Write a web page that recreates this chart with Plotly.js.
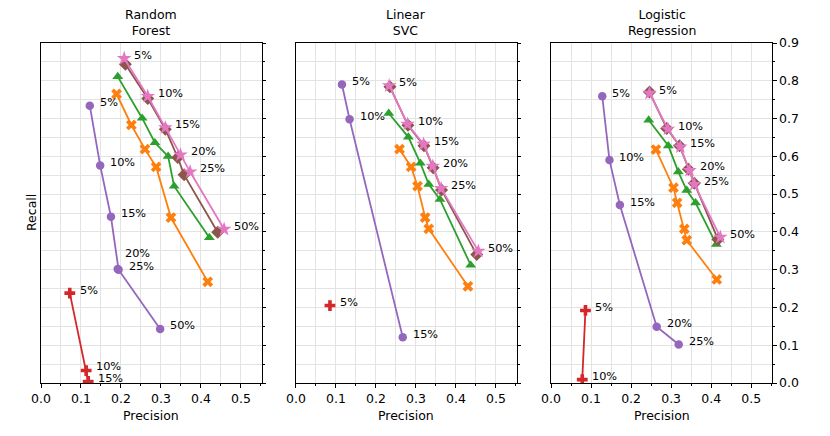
<!DOCTYPE html>
<html>
<head>
<meta charset="utf-8">
<script src="https://cdn.plot.ly/plotly-3.0.1.min.js"></script>
<style>html,body{margin:0;padding:0;background:#fff;}#chart{width:830px;height:436px;}</style>
</head>
<body>
<div id="chart"></div>
<script>
// ---- data ----
const thresholds = ['5%', '10%', '15%', '20%', '25%', '50%'];
const panelTitles = ['Random<br>Forest', 'Linear<br>SVC', 'Logistic<br>Regression'];
const xTickLabels = ['0.0', '0.1', '0.2', '0.3', '0.4', '0.5'];
const yTickLabels = ['0.0', '0.1', '0.2', '0.3', '0.4', '0.5', '0.6', '0.7', '0.8', '0.9'];

// Random Forest
const rfOrangeP = [0.189, 0.226, 0.260, 0.288, 0.325, 0.417];
const rfOrangeR = [0.765, 0.683, 0.619, 0.572, 0.438, 0.268];
const rfGreenP  = [0.192, 0.253, 0.285, 0.318, 0.333, 0.421];
const rfGreenR  = [0.811, 0.701, 0.636, 0.600, 0.521, 0.385];
const rfRedP    = [0.072, 0.113, 0.118];
const rfRedR    = [0.238, 0.033, 0.004];
const rfPurpleP = [0.122, 0.148, 0.175, 0.192, 0.194, 0.298];
const rfPurpleR = [0.734, 0.576, 0.440, 0.302, 0.300, 0.143];
const rfBrownP  = [0.211, 0.267, 0.311, 0.342, 0.358, 0.442];
const rfBrownR  = [0.844, 0.753, 0.672, 0.597, 0.551, 0.399];
const rfPinkP   = [0.208, 0.267, 0.311, 0.349, 0.373, 0.458];
const rfPinkR   = [0.859, 0.759, 0.676, 0.604, 0.559, 0.407];

// Linear SVC
const svcOrangeP = [0.259, 0.288, 0.304, 0.323, 0.332, 0.430];
const svcOrangeR = [0.619, 0.572, 0.521, 0.438, 0.408, 0.256];
const svcGreenP  = [0.232, 0.281, 0.311, 0.332, 0.360, 0.437];
const svcGreenR  = [0.714, 0.651, 0.582, 0.526, 0.486, 0.312];
const svcRedP    = [0.085];
const svcRedR    = [0.205];
const svcPurpleP = [0.115, 0.134, 0.267];
const svcPurpleR = [0.790, 0.698, 0.121];
const svcBrownP  = [0.235, 0.280, 0.320, 0.343, 0.364, 0.452];
const svcBrownR  = [0.784, 0.682, 0.628, 0.570, 0.511, 0.340];
const svcPinkP   = [0.233, 0.279, 0.319, 0.342, 0.363, 0.456];
const svcPinkR   = [0.787, 0.685, 0.632, 0.574, 0.515, 0.349];

// Logistic Regression
const lrOrangeP = [0.262, 0.306, 0.315, 0.333, 0.339, 0.414];
const lrOrangeR = [0.618, 0.517, 0.477, 0.408, 0.378, 0.274];
const lrGreenP  = [0.244, 0.293, 0.318, 0.339, 0.361, 0.413];
const lrGreenR  = [0.696, 0.628, 0.559, 0.510, 0.477, 0.367];
const lrRedP    = [0.086, 0.078];
const lrRedR    = [0.192, 0.009];
const lrPurpleP = [0.128, 0.146, 0.172, 0.264, 0.319];
const lrPurpleR = [0.759, 0.590, 0.471, 0.149, 0.102];
const lrBrownP  = [0.246, 0.289, 0.321, 0.343, 0.358, 0.417];
const lrBrownR  = [0.770, 0.674, 0.628, 0.566, 0.529, 0.380];
const lrPinkP   = [0.246, 0.292, 0.323, 0.346, 0.358, 0.423];
const lrPinkR   = [0.767, 0.672, 0.625, 0.563, 0.526, 0.386];

// ---- styling ----
const FONT = 'DejaVu Sans';
const style = {
  orange: {color: '#ff7f0e', symbol: 'x', size: 9.5},
  green:  {color: '#2ca02c', symbol: 'triangle-up', size: 9.5},
  red:    {color: '#d62728', symbol: 'cross', size: 9},
  purple: {color: '#9467bd', symbol: 'circle', size: 8.5},
  brown:  {color: '#8c564b', symbol: 'diamond', size: 10},
  pink:   {color: '#e377c2', symbol: 'star', size: 11}
};

const panels = [
  {series: [['orange', rfOrangeP, rfOrangeR], ['green', rfGreenP, rfGreenR], ['red', rfRedP, rfRedR],
            ['purple', rfPurpleP, rfPurpleR], ['brown', rfBrownP, rfBrownR], ['pink', rfPinkP, rfPinkR]]},
  {series: [['orange', svcOrangeP, svcOrangeR], ['green', svcGreenP, svcGreenR], ['red', svcRedP, svcRedR],
            ['purple', svcPurpleP, svcPurpleR], ['brown', svcBrownP, svcBrownR], ['pink', svcPinkP, svcPinkR]]},
  {series: [['orange', lrOrangeP, lrOrangeR], ['green', lrGreenP, lrGreenR], ['red', lrRedP, lrRedR],
            ['purple', lrPurpleP, lrPurpleR], ['brown', lrBrownP, lrBrownR], ['pink', lrPinkP, lrPinkR]]}
];
const labelled = ['red', 'purple', 'pink'];

const domains = [[0, 0.3019], [0.3488, 0.6508], [0.6977, 1]];
const traces = [];
const annotations = [];

panels.forEach((panel, pi) => {
  const xa = pi === 0 ? 'x' : 'x' + (pi + 1);
  const ya = pi === 0 ? 'y' : 'y' + (pi + 1);
  panel.series.forEach(([name, p, r]) => {
    const s = style[name];
    traces.push({
      type: 'scatter', mode: 'lines+markers', x: p, y: r, xaxis: xa, yaxis: ya,
      line: {color: s.color, width: 1.8},
      marker: {color: s.color, symbol: s.symbol, size: s.size, line: {width: 0}},
      showlegend: false, hoverinfo: 'x+y', cliponaxis: true
    });
    if (labelled.includes(name)) {
      p.forEach((px, i) => {
        // when two consecutive points coincide, lift the first label so both are readable
        const coincide = i < p.length - 1 && Math.abs(p[i + 1] - px) < 0.01 && Math.abs(r[i + 1] - r[i]) < 0.01;
        // a label whose next point sits just below it is lifted by one pixel
        const close = i < p.length - 1 && !coincide && Math.abs(r[i + 1] - r[i]) < 0.04;
        annotations.push({
          xref: xa, yref: ya, x: px, y: r[i], text: thresholds[i], showarrow: false,
          xanchor: 'left', yanchor: 'middle', xshift: coincide ? 5 : 8, yshift: coincide ? 15 : (close ? 4 : 3),
          font: {family: FONT, size: 11.3, color: '#000'}
        });
      });
    }
  });
  const cx = (domains[pi][0] + domains[pi][1]) / 2;
  annotations.push({xref: 'paper', yref: 'paper', x: cx, y: 1, yanchor: 'bottom', xanchor: 'center',
    yshift: 3, text: panelTitles[pi], showarrow: false, font: {family: FONT, size: 12.5, color: '#000'}});
  annotations.push({xref: 'paper', yref: 'paper', x: cx, y: 0, yanchor: 'middle', xanchor: 'center',
    yshift: -32, text: 'Precision', showarrow: false, font: {family: FONT, size: 12.5, color: '#000'}});
});
annotations.push({xref: 'paper', yref: 'paper', x: 0, y: 0.5, xanchor: 'center', yanchor: 'middle',
  xshift: -10, textangle: -90, text: 'Recall', showarrow: false, font: {family: FONT, size: 12.5, color: '#000'}});

const gridColor = '#e3e3e3';
const layout = {
  width: 830, height: 436,
  margin: {l: 41, r: 58, t: 43, b: 53},
  paper_bgcolor: '#fff', plot_bgcolor: '#fff',
  font: {family: FONT, size: 12.5, color: '#000'},
  showlegend: false,
  annotations: annotations
};
const xVals = xTickLabels.map(Number);
const yVals = yTickLabels.map(Number);
for (let i = 0; i < 3; i++) {
  const xk = i === 0 ? 'xaxis' : 'xaxis' + (i + 1);
  const yk = i === 0 ? 'yaxis' : 'yaxis' + (i + 1);
  const xa = i === 0 ? 'x' : 'x' + (i + 1);
  const ya = i === 0 ? 'y' : 'y' + (i + 1);
  layout[xk] = {
    domain: domains[i], anchor: ya, range: [0, 0.552],
    tickmode: 'array', tickvals: xVals, ticktext: xTickLabels,
    ticks: 'outside', ticklen: 3.5, tickwidth: 1, tickcolor: '#000',
    showline: true, linecolor: '#000', linewidth: 1, mirror: true,
    showgrid: true, gridcolor: gridColor, gridwidth: 1, zeroline: false,
    tickfont: {family: FONT, size: 12.5, color: '#000'},
    minor: {dtick: 0.05, tick0: 0, ticks: 'outside', ticklen: 2, tickcolor: '#000', showgrid: true, gridcolor: gridColor, gridwidth: 1}
  };
  layout[yk] = {
    domain: [0, 1], anchor: xa, range: [0, 0.9], side: 'right',
    tickmode: 'array', tickvals: yVals, ticktext: yTickLabels, showticklabels: i === 2,
    ticks: 'outside', ticklen: 3.5, tickwidth: 1, tickcolor: '#000',
    showline: true, linecolor: '#000', linewidth: 1, mirror: true,
    showgrid: true, gridcolor: gridColor, gridwidth: 1, zeroline: false,
    tickfont: {family: FONT, size: 12.5, color: '#000'},
    minor: {dtick: 0.05, tick0: 0, ticks: 'outside', ticklen: 2, tickcolor: '#000', showgrid: true, gridcolor: gridColor, gridwidth: 1}
  };
}

Plotly.newPlot('chart', traces, layout, {displayModeBar: false, staticPlot: true});
</script>
</body>
</html>
